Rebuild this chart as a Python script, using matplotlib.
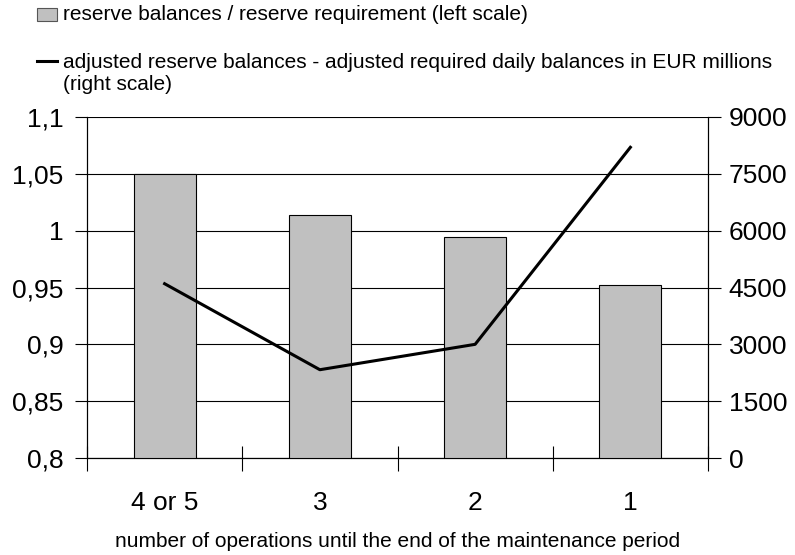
import numpy as np
import matplotlib
matplotlib.use("Agg")
from matplotlib import pyplot as plt
from matplotlib.patches import Rectangle
from matplotlib.lines import Line2D

plt.rcParams['font.family'] = ['Liberation Sans', 'DejaVu Sans']

categories = ['4 or 5', '3', '2', '1']
ratio_values = [1.050, 1.014, 0.994, 0.952]
balance_values = [4600, 2330, 3000, 8200]

left_ticks = [0.8, 0.85, 0.9, 0.95, 1.0, 1.05, 1.1]
left_tick_labels = ['0,8', '0,85', '0,9', '0,95', '1', '1,05', '1,1']
right_ticks = [0, 1500, 3000, 4500, 6000, 7500, 9000]

bar_label = 'reserve balances / reserve requirement (left scale)'
line_label = ('adjusted reserve balances - adjusted required daily balances in EUR millions\n'
              '(right scale)')
x_title = 'number of operations until the end of the maintenance period'

bar_color = '#c0c0c0'
ink = 'black'
tick_size = 19
legend_size = 15

fig = plt.figure(figsize=(7.95, 5.55), dpi=100)
ax = fig.add_axes([87 / 795, 1 - 458 / 555, 621 / 795, 341 / 555])
ax2 = ax.twinx()

x = np.arange(len(categories))
ax.bar(x, ratio_values, width=0.4, color=bar_color, edgecolor=ink, linewidth=0.8, zorder=3)
ax2.plot(x, balance_values, color=ink, linewidth=2.2, zorder=4)

ax.set_xlim(-0.5, len(categories) - 0.5)
ax.set_ylim(0.8, 1.1)
ax2.set_ylim(0, 9000)

ax.set_yticks(left_ticks)
ax.set_yticklabels(left_tick_labels, fontsize=tick_size)
ax2.set_yticks(right_ticks)
ax2.set_yticklabels([str(v) for v in right_ticks], fontsize=tick_size)

ax.grid(axis='y', color=ink, linewidth=0.8, zorder=1)
ax.set_axisbelow(True)

ax.set_xticks(x)
ax.set_xticklabels(categories, fontsize=tick_size)
ax.tick_params(axis='x', which='major', length=0, pad=24)
ax.set_xticks(np.arange(len(categories) + 1) - 0.5, minor=True)
ax.tick_params(axis='x', which='minor', direction='inout', length=18, width=0.8)
ax.tick_params(axis='y', direction='out', length=9, width=0.8, pad=8)
ax2.tick_params(axis='y', direction='out', length=9, width=0.8, pad=6)

for a in (ax, ax2):
    for s in a.spines.values():
        s.set_linewidth(0.8)
    a.spines['top'].set_visible(False)

ax.set_xlabel(x_title, fontsize=legend_size, labelpad=12)

# legend drawn by hand so the line key sits on the first text line
fig.patches.append(Rectangle((37 / 795, 1 - 21 / 555), 20 / 795, 13 / 555,
                             transform=fig.transFigure, facecolor=bar_color,
                             edgecolor='#555555', linewidth=0.8))
fig.text(63 / 795, 1 - 15 / 555, bar_label, fontsize=legend_size, va='center', ha='left')
fig.lines.append(Line2D([37 / 795, 57 / 795], [1 - 61 / 555, 1 - 61 / 555],
                        transform=fig.transFigure, color=ink, linewidth=2.2))
fig.text(63 / 795, 1 - 53 / 555, line_label, fontsize=legend_size, va='top', ha='left',
         linespacing=1.2)

fig.savefig('out.png', dpi=100)
